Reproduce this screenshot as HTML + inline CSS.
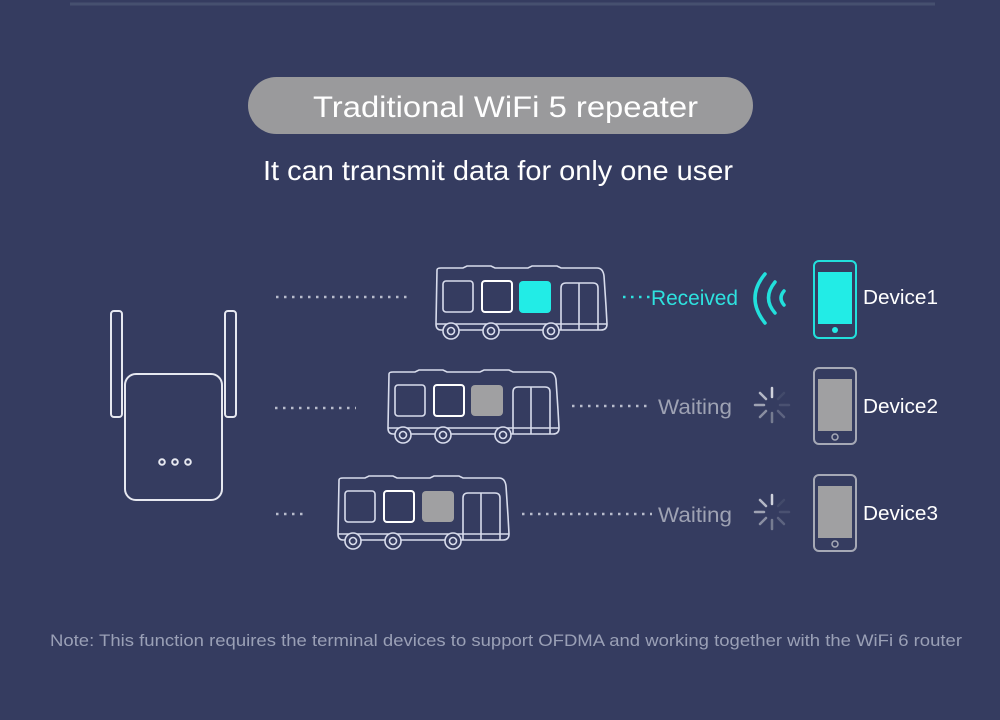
<!DOCTYPE html>
<html><head><meta charset="utf-8"><style>
body{margin:0;background:#353c60;}
svg{display:block}
text{font-family:"Liberation Sans",sans-serif}
</style></head><body>
<svg width="1000" height="720" viewBox="0 0 1000 720" xmlns="http://www.w3.org/2000/svg">
<defs>
<g id="bus" fill="none" stroke="#d8dcec" stroke-width="1.6">
  <path d="M4 4 Q4 2 8 2 L30 2 L34 0 L58 0 L62 2 L95 2 L99 0 L124 0 L128 2 L164 2 Q170 2 171 10 L173 40 L174 58 Q174 64 168 64 L8 64 Q3 64 3 58 Z"/>
  <rect x="10" y="15" width="30" height="31" rx="3"/>
  <rect x="49" y="15" width="30" height="31" rx="3" stroke="#fff" stroke-width="2"/>
  <path d="M128 64 L128 22 Q128 17 133 17 L160 17 Q165 17 165 22 L165 64"/>
  <line x1="146" y1="17" x2="146" y2="64"/>
  <line x1="3" y1="58" x2="174" y2="58"/>
  <circle cx="18" cy="65" r="8" fill="#353c60"/><circle cx="18" cy="65" r="3.5"/>
  <circle cx="58" cy="65" r="8" fill="#353c60"/><circle cx="58" cy="65" r="3.5"/>
  <circle cx="118" cy="65" r="8" fill="#353c60"/><circle cx="118" cy="65" r="3.5"/>
</g>
<g id="spin" stroke-width="2.5" stroke-linecap="round">
  <line x1="0" y1="-8" x2="0" y2="-17" stroke="#cfd2dc"/>
  <line x1="-6" y1="-6" x2="-12" y2="-12" stroke="#b4b8c6"/>
  <line x1="-8" y1="0" x2="-17" y2="0" stroke="#9fa3b3"/>
  <line x1="-6" y1="6" x2="-12" y2="12" stroke="#8a8fa2"/>
  <line x1="0" y1="8" x2="0" y2="17" stroke="#767c91"/>
  <line x1="6" y1="6" x2="12" y2="12" stroke="#5d6480"/>
  <line x1="8" y1="0" x2="17" y2="0" stroke="#4a5171"/>
  <line x1="6" y1="-6" x2="12" y2="-12" stroke="#434a6a"/>
</g>
</defs>
<line x1="70" y1="4" x2="935" y2="4" stroke="#46506f" stroke-width="3"/>
<rect x="248" y="77" width="505" height="57" rx="28.5" fill="#9a9a9c"/>
<text x="313" y="117" font-size="30" fill="#fff" textLength="385" lengthAdjust="spacingAndGlyphs">Traditional WiFi 5 repeater</text>
<text x="263" y="180" font-size="28" fill="#fff" textLength="470" lengthAdjust="spacingAndGlyphs">It can transmit data for only one user</text>

<!-- repeater -->
<g fill="none" stroke="#e6e8f0" stroke-width="2">
<rect x="111" y="311" width="11" height="106" rx="3"/>
<rect x="225" y="311" width="11" height="106" rx="3"/>
<rect x="125" y="374" width="97" height="126" rx="11" fill="#353c60"/>
<circle cx="162" cy="462" r="2.8"/><circle cx="175" cy="462" r="2.8"/><circle cx="188" cy="462" r="2.8"/>
</g>

<!-- dots -->
<g stroke="#b8bccc" stroke-width="2.5" stroke-dasharray="2.5 5.5">
<line x1="276" y1="297" x2="408" y2="297"/>
<line x1="275" y1="408" x2="356" y2="408"/>
<line x1="276" y1="514" x2="306" y2="514"/>
<line x1="572" y1="406" x2="652" y2="406"/>
<line x1="522" y1="514" x2="652" y2="514"/>
<line x1="623" y1="297" x2="650" y2="297" stroke="#2ee2df"/>
</g>

<!-- buses -->
<use href="#bus" x="433" y="266"/>
<rect x="519" y="281" width="32" height="32" rx="4" fill="#22ece6"/>
<use href="#bus" x="385" y="370"/>
<rect x="471" y="385" width="32" height="31" rx="4" fill="#a0a0a2"/>
<use href="#bus" x="335" y="476"/>
<rect x="422" y="491" width="32" height="31" rx="4" fill="#a0a0a2"/>

<text x="651" y="305" font-size="21" fill="#2ee2df" textLength="87" lengthAdjust="spacingAndGlyphs">Received</text>
<text x="658" y="414" font-size="21" fill="#9ea2b3" textLength="74" lengthAdjust="spacingAndGlyphs">Waiting</text>
<text x="658" y="522" font-size="21" fill="#9ea2b3" textLength="74" lengthAdjust="spacingAndGlyphs">Waiting</text>

<!-- wifi -->
<g fill="none" stroke="#22e0dc" stroke-width="3.5" stroke-linecap="round">
<path d="M765 274 Q745 298 765 323"/>
<path d="M775 282 Q762 298 775 313"/>
<path d="M784 291 Q778 298 784 305"/>
</g>
<use href="#spin" x="772" y="405"/>
<use href="#spin" x="772" y="512"/>

<!-- phones -->
<rect x="814" y="261" width="42" height="77" rx="5" fill="none" stroke="#22e0dc" stroke-width="2"/>
<rect x="818" y="272" width="34" height="52" fill="#22ece6"/>
<circle cx="835" cy="330" r="3" fill="#22ece6"/>
<rect x="814" y="368" width="42" height="76" rx="5" fill="none" stroke="#a6a9b6" stroke-width="2"/>
<rect x="818" y="379" width="34" height="52" fill="#a0a0a2"/>
<circle cx="835" cy="437" r="3" fill="none" stroke="#a6a9b6" stroke-width="1.5"/>
<rect x="814" y="475" width="42" height="76" rx="5" fill="none" stroke="#a6a9b6" stroke-width="2"/>
<rect x="818" y="486" width="34" height="52" fill="#a0a0a2"/>
<circle cx="835" cy="544" r="3" fill="none" stroke="#a6a9b6" stroke-width="1.5"/>

<text x="863" y="304" font-size="20" fill="#fff" textLength="75" lengthAdjust="spacingAndGlyphs">Device1</text>
<text x="863" y="413" font-size="20" fill="#fff" textLength="75" lengthAdjust="spacingAndGlyphs">Device2</text>
<text x="863" y="520" font-size="20" fill="#fff" textLength="75" lengthAdjust="spacingAndGlyphs">Device3</text>

<text x="506" y="646" font-size="16.5" fill="#9aa0b6" text-anchor="middle" textLength="912" lengthAdjust="spacingAndGlyphs">Note: This function requires the terminal devices to support OFDMA and working together with the WiFi 6 router</text>
</svg>
</body></html>
